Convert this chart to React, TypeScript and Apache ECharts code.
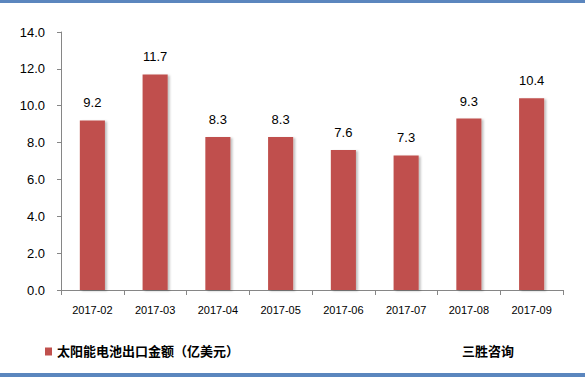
import React, { useEffect, useRef } from "react";
import * as echarts from "echarts";

const categories = ["2017-02", "2017-03", "2017-04", "2017-05", "2017-06", "2017-07", "2017-08", "2017-09"];
const values = [9.2, 11.7, 8.3, 8.3, 7.6, 7.3, 9.3, 10.4];
const seriesName = "太阳能电池出口金额（亿美元）";
const sourceText = "三胜咨询";

export default function App() {
  const ref = useRef<HTMLDivElement>(null);
  useEffect(() => {
    const chart = echarts.init(ref.current!, null, { renderer: "svg" });
    const font = "'Liberation Sans', 'Noto Sans CJK SC', sans-serif";
    chart.setOption({
      animation: false,
      backgroundColor: "#ffffff",
      textStyle: { fontFamily: font },
      grid: { left: 61, right: 22, top: 32, bottom: 90 },
      xAxis: {
        type: "category",
        data: categories,
        axisLine: { lineStyle: { color: "#868686" } },
        axisTick: { show: true, alignWithLabel: false, length: 5, lineStyle: { color: "#868686" } },
        axisLabel: { color: "#000", fontSize: 11, margin: 14, fontFamily: font },
      },
      yAxis: {
        type: "value",
        min: 0,
        max: 14,
        interval: 2,
        axisLine: { show: true, lineStyle: { color: "#868686" } },
        axisTick: { show: true, inside: false, length: 4, lineStyle: { color: "#868686" } },
        splitLine: { show: false },
        axisLabel: { color: "#000", fontSize: 13, margin: 16, fontFamily: font, formatter: (v: number) => v.toFixed(1) },
      },
      legend: {
        show: true,
        left: 40,
        top: 340,
        itemWidth: 7,
        itemHeight: 8,
        itemGap: 4,
        icon: "rect",
        textStyle: { color: "#000", fontSize: 13, fontWeight: "bold", fontFamily: font },
        data: [seriesName],
      },
      series: [
        {
          name: seriesName,
          type: "bar",
          data: values,
          barWidth: "40%",
          itemStyle: {
            color: "#C0504D",
            shadowColor: "rgba(0,0,0,0.25)",
            shadowBlur: 2,
            shadowOffsetX: 2,
            shadowOffsetY: 1,
          },
          label: {
            show: true,
            position: "top",
            distance: 11,
            color: "#000",
            fontSize: 13,
            fontFamily: font,
            formatter: (p: any) => p.value.toFixed(1),
          },
        },
      ],
      graphic: [
        { type: "rect", shape: { x: 0, y: 0, width: 585, height: 3 }, style: { fill: "#5B86BE" } },
        { type: "rect", shape: { x: 0, y: 373, width: 585, height: 4 }, style: { fill: "#5B86BE" } },
        {
          type: "text",
          left: 462,
          top: 345,
          style: { text: sourceText, fill: "#000", font: `bold 13px ${font}` },
        },
      ],
    });
    return () => chart.dispose();
  }, []);
  return <div ref={ref} style={{ width: 585, height: 380 }} />;
}

const _style = document.createElement("style");
_style.textContent = "body{margin:0}";
document.head.appendChild(_style);
